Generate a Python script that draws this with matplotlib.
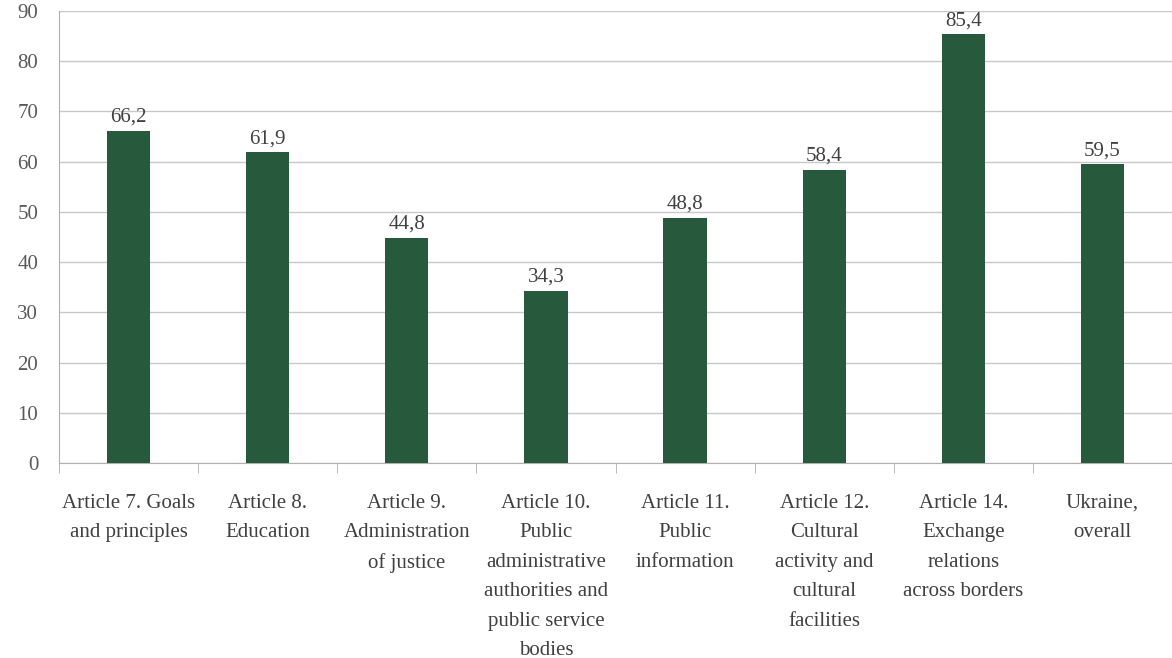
import numpy as np
import matplotlib.pyplot as plt

labels = ["Article 7. Goals\nand principles",
          "Article 8.\nEducation",
          "Article 9.\nAdministration\nof justice",
          "Article 10.\nPublic\nadministrative\nauthorities and\npublic service\nbodies",
          "Article 11.\nPublic\ninformation",
          "Article 12.\nCultural\nactivity and\ncultural\nfacilities",
          "Article 14.\nExchange\nrelations\nacross borders",
          "Ukraine,\noverall"]
values = [66.2, 61.9, 44.8, 34.3, 48.8, 58.4, 85.4, 59.5]

plt.rcParams['font.family'] = ['Liberation Serif', 'DejaVu Serif']

fig = plt.figure(figsize=(11.72, 6.58), dpi=100)
ax = fig.add_axes([59 / 1172, (658 - 463) / 658, 1 - 59 / 1172, (463 - 11) / 658])

x = np.arange(len(values))
bars = ax.bar(x, values, width=0.31, color='#27593c', zorder=3)
for b, v in zip(bars, values):
    ax.text(b.get_x() + b.get_width() / 2, v + 0.8, f"{v:.1f}".replace('.', ','),
            ha='center', va='bottom', fontsize=15, color='#404040', zorder=4)

ax.set_xlim(-0.5, len(values) - 0.5)
ax.set_ylim(0, 90)
ax.set_yticks(range(0, 91, 10))
ax.yaxis.grid(True, color='#c8c8c8', linewidth=1, zorder=0)
ax.tick_params(axis='y', length=0, pad=15, labelsize=15, labelcolor='#595959')

ax.set_xticks(x)
ax.set_xticklabels(labels, fontsize=15, color='#404040', linespacing=1.75)
ax.tick_params(axis='x', which='major', length=0, pad=22)
ax.set_xticks(np.arange(-0.5, len(values)), minor=True)
ax.tick_params(axis='x', which='minor', length=7, color='#b0b0b0')

for s in ['top', 'right']:
    ax.spines[s].set_visible(False)
ax.spines['left'].set_color('#b0b0b0')
ax.spines['bottom'].set_color('#b0b0b0')

fig.savefig('out.png', dpi=100)
